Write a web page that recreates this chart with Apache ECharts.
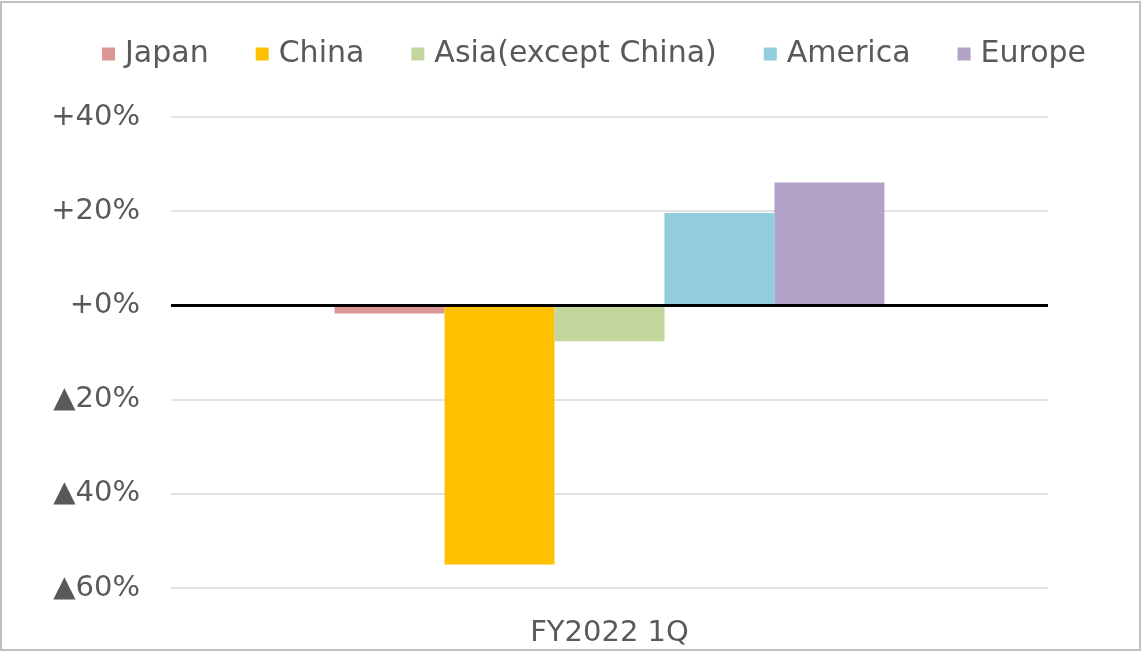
<!DOCTYPE html>
<html>
<head>
<meta charset="utf-8">
<title>Sales growth by region, FY2022 1Q</title>
<script src="https://cdn.jsdelivr.net/npm/echarts@6/dist/echarts.min.js"></script>
<style>
  html, body { margin: 0; padding: 0; background: #ffffff; }
  #chart { width: 1142px; height: 653px; }
</style>
</head>
<body>
<div id="chart"></div>
<script>
// Year-on-year change by region (%)
const categories = ['FY2022 1Q'];
const regions = ['Japan', 'China', 'Asia(except China)', 'America', 'Europe'];
const japan = [-1.7];
const china = [-55.0];
const asia = [-7.6];
const america = [19.6];
const europe = [26.1];
const seriesValues = [japan, china, asia, america, europe];

// Value-axis ticks and their printed labels (▲ marks a decrease)
const yTicks = [-60, -40, -20, 0, 20, 40];
const yTickLabels = ['▲60%', '▲40%', '▲20%', '+0%', '+20%', '+40%'];

const colors = ['#d99694', '#ffc000', '#c3d69b', '#92cddc', '#b3a2c7'];
const FONT = 'DejaVu Sans';
const TEXT = '#595959';

const chart = echarts.init(document.getElementById('chart'), null, { renderer: 'canvas' });

const series = regions.map((name, i) => {
  const s = {
    name: name,
    type: 'bar',
    data: seriesValues[i],
    barGap: '0%',
    barCategoryGap: '37.3%',
    itemStyle: { color: colors[i] },
    emphasis: { disabled: true }
  };
  if (i === regions.length - 1) {
    // Heavy baseline at zero
    s.markLine = {
      silent: true,
      symbol: ['none', 'none'],
      label: { show: false },
      lineStyle: { color: '#000000', width: 3, type: 'solid' },
      data: [{ yAxis: 0 }],
      animation: false
    };
  }
  return s;
});

chart.setOption({
  animation: false,
  backgroundColor: '#ffffff',
  textStyle: { fontFamily: FONT },
  graphic: [{
    type: 'rect',
    shape: { x: 1, y: 2, width: 1139, height: 648 },
    style: { fill: 'none', stroke: '#bfbfbf', lineWidth: 2 },
    silent: true,
    z: 100
  }],
  legend: {
    data: regions,
    top: 34,
    left: 97,
    icon: 'rect',
    itemWidth: 13,
    itemHeight: 13,
    itemGap: 47,
    textStyle: { color: TEXT, fontSize: 30, fontFamily: FONT, padding: [0, 0, 0, 5] },
    selectedMode: false
  },
  grid: { left: 171, right: 94, top: 117, bottom: 65, containLabel: false },
  xAxis: {
    type: 'category',
    data: categories,
    axisLine: { show: false },
    axisTick: { show: false },
    axisLabel: { color: TEXT, fontSize: 29, fontFamily: FONT, margin: 31 },
    splitLine: { show: false }
  },
  yAxis: {
    type: 'value',
    min: yTicks[0],
    max: yTicks[yTicks.length - 1],
    interval: 20,
    axisLine: { show: false },
    axisTick: { show: false },
    axisLabel: {
      color: TEXT,
      fontSize: 29,
      fontFamily: FONT,
      margin: 31,
      formatter: function (v) {
        const idx = yTicks.indexOf(v);
        return idx >= 0 ? yTickLabels[idx] : '';
      }
    },
    splitLine: { show: true, lineStyle: { color: '#d9d9d9', width: 1.5 } }
  },
  series: series
});
</script>
</body>
</html>
